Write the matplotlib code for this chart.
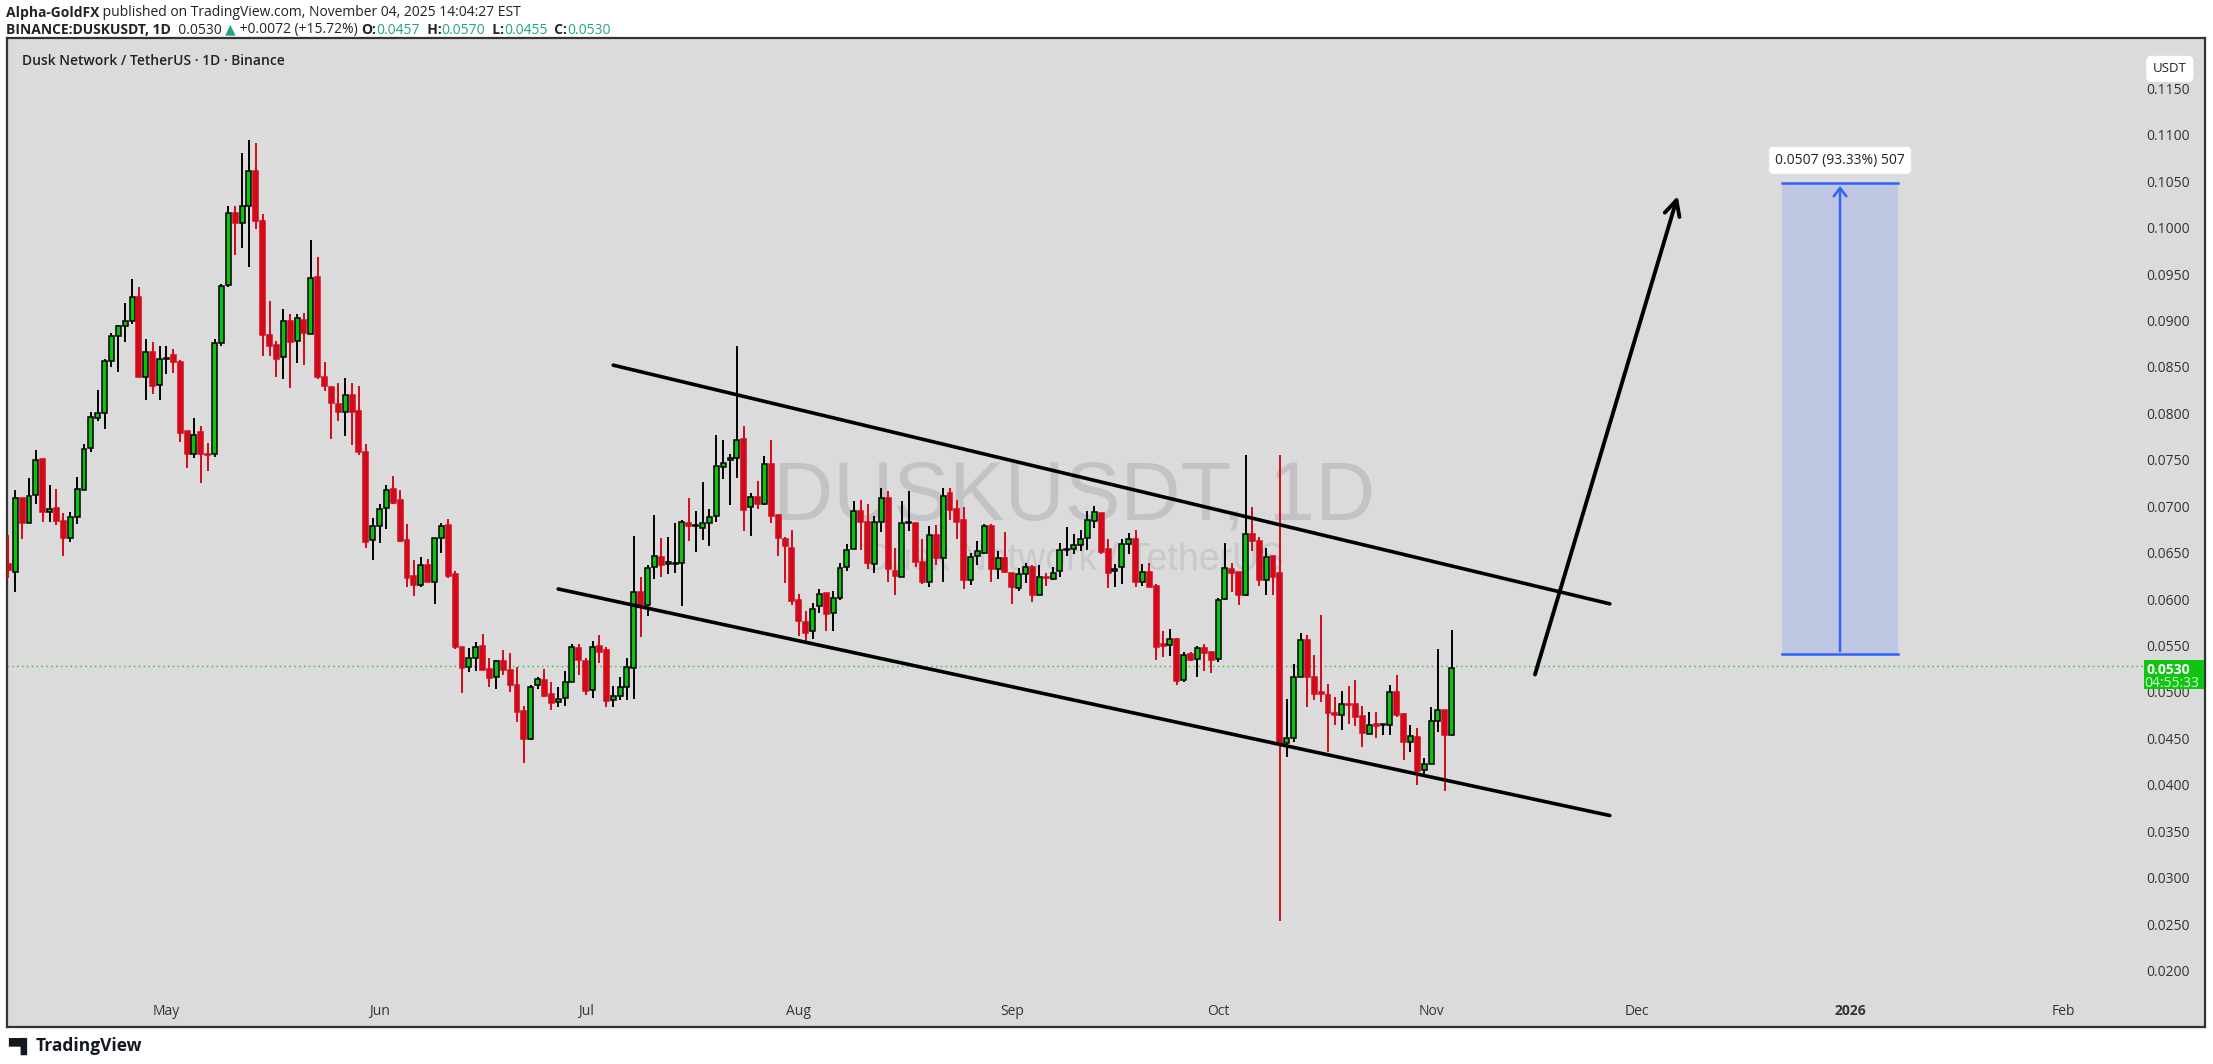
import numpy as np
import pandas as pd
import matplotlib
matplotlib.use('Agg')
import matplotlib.pyplot as plt
import matplotlib.transforms as mtrans
from matplotlib.patches import Rectangle

# ---------------- data ----------------
end_date = "2025-11-04"
opens = [0.0640,0.0631,0.0711,0.0684,0.0714,0.0753,0.0696,0.0700,0.0686,0.0668,0.0690,0.0720,0.0765,0.0797,0.0803,0.0859,0.0885,0.0896,0.0902,0.0927,
0.0841,0.0868,0.0833,0.0861,0.0865,0.0857,0.0783,0.0758,0.0782,0.0758,0.0758,0.0878,0.0940,0.1018,0.1007,0.1025,0.1063,0.1009,0.0886,0.0876,
0.0863,0.0902,0.0880,0.0903,0.0888,0.0949,0.0841,0.0830,0.0812,0.0804,0.0822,0.0805,
0.0760,0.0666,0.0681,0.0700,0.0721,0.0709,0.0666,0.0627,0.0617,0.0639,0.0621,0.0668,0.0682,0.0629,0.0551,0.0529,0.0539,0.0552,0.0527,0.0518,
0.0535,0.0526,0.0510,0.0482,0.0451,0.0510,0.0515,0.0500,0.0491,0.0496,0.0513,0.0549,0.0535,0.0504,0.0552,0.0547,0.0493,0.0498,0.0507,0.0528,
0.0610,0.0596,0.0637,0.0647,0.0640,0.0640,0.0641,0.0684,0.0681,0.0679,0.0684,0.0692,
0.0744,0.0752,0.0754,0.0774,0.0701,0.0712,0.0705,0.0748,0.0693,0.0667,0.0657,0.0601,0.0577,0.0568,0.0595,0.0609,0.0587,0.0603,0.0637,0.0656,
0.0697,0.0685,0.0640,0.0685,0.0711,0.0632,0.0626,0.0684,0.0684,0.0642,0.0620,0.0671,0.0646,0.0716,0.0699,0.0687,0.0623,0.0649,0.0652,0.0681,
0.0635,0.0646,0.0630,0.0614,0.0629,0.0637,0.0607,0.0626,0.0624,0.0632,0.0655,0.0656,0.0660,0.0668,0.0686,
0.0695,0.0656,0.0632,0.0637,0.0661,0.0667,0.0621,0.0631,0.0616,0.0553,0.0553,0.0559,0.0515,0.0543,0.0538,0.0549,0.0545,0.0538,0.0602,0.0635,
0.0631,0.0606,0.0672,0.0665,0.0623,0.0648,
0.0630,0.0447,0.0453,0.0518,0.0558,0.0518,0.0502,0.0499,0.0479,0.0477,0.0489,0.0489,0.0476,0.0457,0.0468,0.0466,0.0466,0.0502,0.0478,0.0448,
0.0454,0.0418,0.0425,0.0471,0.0483,0.0456]
highs = [0.0671,0.0720,0.0711,0.0733,0.0763,0.0753,0.0725,0.0721,0.0695,0.0696,0.0734,0.0769,0.0804,0.0827,0.0861,0.0889,0.0897,0.0921,0.0947,0.0938,
0.0882,0.0879,0.0875,0.0875,0.0871,0.0860,0.0783,0.0797,0.0789,0.0770,0.0882,0.0941,0.1025,0.1025,0.1083,0.1096,0.1093,0.1017,0.0923,0.0880,
0.0914,0.0909,0.0909,0.0910,0.0989,0.0971,0.0857,0.0830,0.0835,0.0840,0.0835,0.0832,
0.0769,0.0689,0.0704,0.0725,0.0735,0.0720,0.0683,0.0644,0.0647,0.0645,0.0668,0.0684,0.0688,0.0632,0.0551,0.0549,0.0556,0.0564,0.0539,0.0536,
0.0547,0.0544,0.0529,0.0487,0.0510,0.0518,0.0527,0.0513,0.0507,0.0525,0.0554,0.0554,0.0539,0.0557,0.0563,0.0550,0.0509,0.0518,0.0539,0.0670,
0.0626,0.0639,0.0693,0.0668,0.0669,0.0684,0.0687,0.0711,0.0697,0.0728,0.0699,0.0779,
0.0773,0.0758,0.0875,0.0788,0.0716,0.0729,0.0756,0.0773,0.0693,0.0669,0.0676,0.0608,0.0589,0.0598,0.0613,0.0609,0.0611,0.0641,0.0661,0.0708,
0.0709,0.0704,0.0692,0.0722,0.0718,0.0657,0.0708,0.0718,0.0684,0.0667,0.0681,0.0682,0.0722,0.0722,0.0709,0.0701,0.0652,0.0665,0.0683,0.0683,
0.0654,0.0674,0.0630,0.0636,0.0641,0.0639,0.0639,0.0630,0.0637,0.0663,0.0680,0.0672,0.0677,0.0697,0.0702,
0.0695,0.0667,0.0640,0.0667,0.0673,0.0677,0.0640,0.0641,0.0618,0.0568,0.0570,0.0560,0.0545,0.0545,0.0552,0.0554,0.0545,0.0603,0.0662,0.0641,
0.0631,0.0757,0.0701,0.0669,0.0657,0.0648,
0.0757,0.0495,0.0532,0.0566,0.0563,0.0542,0.0585,0.0511,0.0497,0.0503,0.0508,0.0515,0.0487,0.0480,0.0480,0.0468,0.0510,0.0520,0.0479,0.0466,
0.0463,0.0431,0.0486,0.0548,0.0483,0.0569]
lows = [0.0625,0.0610,0.0667,0.0684,0.0705,0.0685,0.0685,0.0682,0.0648,0.0664,0.0683,0.0720,0.0760,0.0794,0.0785,0.0852,0.0847,0.0879,0.0898,0.0841,
0.0816,0.0823,0.0816,0.0844,0.0846,0.0771,0.0743,0.0754,0.0727,0.0740,0.0755,0.0875,0.0938,0.0973,0.0980,0.0960,0.1001,0.0864,0.0864,0.0841,
0.0839,0.0829,0.0856,0.0854,0.0888,0.0839,0.0826,0.0775,0.0794,0.0778,0.0768,0.0757,
0.0657,0.0644,0.0663,0.0678,0.0705,0.0664,0.0615,0.0605,0.0615,0.0620,0.0597,0.0652,0.0625,0.0548,0.0501,0.0524,0.0525,0.0526,0.0507,0.0505,
0.0520,0.0502,0.0470,0.0426,0.0450,0.0505,0.0497,0.0483,0.0486,0.0487,0.0513,0.0520,0.0499,0.0496,0.0533,0.0486,0.0486,0.0493,0.0493,0.0495,
0.0561,0.0584,0.0624,0.0626,0.0629,0.0630,0.0595,0.0665,0.0653,0.0666,0.0659,0.0685,
0.0731,0.0703,0.0732,0.0675,0.0670,0.0699,0.0703,0.0684,0.0648,0.0619,0.0596,0.0562,0.0554,0.0559,0.0587,0.0568,0.0568,0.0601,0.0632,0.0656,
0.0655,0.0635,0.0630,0.0674,0.0621,0.0606,0.0626,0.0675,0.0637,0.0618,0.0615,0.0639,0.0620,0.0687,0.0667,0.0613,0.0617,0.0639,0.0651,0.0621,
0.0624,0.0630,0.0597,0.0611,0.0619,0.0599,0.0607,0.0616,0.0623,0.0626,0.0648,0.0651,0.0654,0.0655,0.0679,
0.0651,0.0614,0.0615,0.0618,0.0651,0.0615,0.0616,0.0615,0.0536,0.0540,0.0541,0.0510,0.0513,0.0535,0.0518,0.0525,0.0523,0.0534,0.0601,0.0610,
0.0596,0.0605,0.0654,0.0616,0.0606,0.0606,
0.0255,0.0432,0.0448,0.0518,0.0486,0.0493,0.0491,0.0437,0.0466,0.0461,0.0468,0.0465,0.0443,0.0457,0.0452,0.0456,0.0456,0.0475,0.0429,0.0437,
0.0402,0.0413,0.0424,0.0459,0.0395,0.0455]
closes = [0.0633,0.0711,0.0684,0.0713,0.0752,0.0696,0.0699,0.0686,0.0668,0.0691,0.0721,0.0764,0.0798,0.0802,0.0858,0.0885,0.0896,0.0902,0.0927,0.0841,
0.0868,0.0832,0.0861,0.0862,0.0857,0.0781,0.0758,0.0779,0.0758,0.0757,0.0878,0.0939,0.1018,0.1007,0.1025,0.1063,0.1009,0.0886,0.0875,0.0861,
0.0902,0.0879,0.0905,0.0889,0.0948,0.0841,0.0832,0.0813,0.0804,0.0822,0.0804,0.0760,
0.0664,0.0681,0.0699,0.0720,0.0706,0.0665,0.0625,0.0617,0.0639,0.0621,0.0668,0.0681,0.0627,0.0550,0.0528,0.0539,0.0551,0.0526,0.0517,0.0535,
0.0526,0.0510,0.0481,0.0451,0.0507,0.0516,0.0498,0.0490,0.0495,0.0513,0.0550,0.0537,0.0503,0.0551,0.0545,0.0492,0.0498,0.0507,0.0529,0.0610,
0.0596,0.0636,0.0648,0.0639,0.0642,0.0641,0.0685,0.0681,0.0681,0.0684,0.0691,0.0745,
0.0749,0.0754,0.0773,0.0698,0.0712,0.0704,0.0748,0.0692,0.0668,0.0659,0.0600,0.0578,0.0566,0.0591,0.0608,0.0586,0.0603,0.0636,0.0655,0.0697,
0.0685,0.0641,0.0685,0.0711,0.0635,0.0627,0.0684,0.0684,0.0642,0.0620,0.0671,0.0646,0.0713,0.0698,0.0685,0.0623,0.0647,0.0654,0.0681,0.0635,
0.0646,0.0631,0.0615,0.0629,0.0637,0.0607,0.0626,0.0625,0.0630,0.0655,0.0655,0.0660,0.0667,0.0687,0.0696,
0.0653,0.0630,0.0635,0.0661,0.0667,0.0621,0.0631,0.0615,0.0551,0.0552,0.0559,0.0514,0.0542,0.0537,0.0549,0.0544,0.0537,0.0601,0.0636,0.0630,
0.0606,0.0672,0.0665,0.0623,0.0647,0.0626,
0.0447,0.0453,0.0518,0.0558,0.0518,0.0500,0.0500,0.0479,0.0477,0.0489,0.0488,0.0475,0.0458,0.0467,0.0465,0.0466,0.0502,0.0477,0.0448,0.0455,
0.0417,0.0425,0.0471,0.0483,0.0456,0.0528]

month_labels = ["May", "Jun", "Jul", "Aug", "Sep", "Oct", "Nov", "Dec", "2026", "Feb"]
month_dates = ["2025-05-01", "2025-06-01", "2025-07-01", "2025-08-01", "2025-09-01",
               "2025-10-01", "2025-11-01", "2025-12-01", "2026-01-01", "2026-02-01"]
price_ticks = [round(0.02 + 0.005 * k, 4) for k in range(20)]
last_price = 0.0530

upper_line = [("2025-07-05", 0.0854), ("2025-11-27", 0.0597)]
lower_line = [("2025-06-27", 0.0613), ("2025-11-27", 0.0369)]
arrow_pts = [("2025-11-16", 0.0518), ("2025-12-07", 0.1039)]
target_box = {"start": "2025-12-22", "end": "2026-01-08", "low": 0.0543, "high": 0.1050}
target_label = "0.0507 (93.33%) 507"

# ---------------- helpers ----------------
REF = pd.Timestamp("2025-05-01")
def dx(d):
    return (pd.Timestamp(d) - REF).days

W, H = 2213, 1064
fig = plt.figure(figsize=(W / 100, H / 100), dpi=100, facecolor="white")
ax = fig.add_axes([7 / W, 1 - 1027 / H, (2205 - 7) / W, (1027 - 38) / H])
ax.set_facecolor("#dbdbdb")
ax.set_xlim(-23.2, 296.6)
ax.set_ylim(0.01413, 0.12063)
ax.set_xticks([]); ax.set_yticks([])
for s in ax.spines.values():
    s.set_color("#333333"); s.set_linewidth(1.6)

GREEN = "#0cc20c"
RED = "#d30a1a"
FAM = ["Open Sans", "DejaVu Sans"]

# watermark
wm_x = dx("2025-09-10")
ax.text(wm_x, 0.0712, "DUSKUSDT, 1D", fontsize=60, color="#c3c3c5", ha="center", va="center",
        family="Liberation Sans", zorder=0)
ax.text(wm_x, 0.0644, "Dusk Network / TetherUS", fontsize=27, color="#c9c9cb", ha="center", va="center",
        family="Liberation Sans", zorder=0)

dates = pd.date_range(end=end_date, periods=len(closes), freq="D")
xs = np.array([(d - REF).days for d in dates], dtype=float)
o = np.array(opens); h = np.array(highs); l = np.array(lows); c = np.array(closes)
up = c >= o
for xi, oi, hi, li, ci, u in zip(xs, o, h, l, c, up):
    col = GREEN if u else RED
    wcol = "black" if u else RED
    ax.vlines(xi, li, hi, color=wcol, lw=1.4, zorder=3)
    bot = min(oi, ci); ht = max(abs(ci - oi), 0.00012)
    ax.add_patch(Rectangle((xi - 0.36, bot), 0.72, ht, facecolor=col,
                           edgecolor="black" if u else col, lw=1.1, zorder=4))

# last price dotted line
ax.axhline(last_price, color="#22c322", lw=1.0, ls=(0, (1, 2.5)), zorder=2)

# channel lines
for ln in (upper_line, lower_line):
    ax.plot([dx(ln[0][0]), dx(ln[1][0])], [ln[0][1], ln[1][1]], color="black", lw=2.6,
            solid_capstyle="round", zorder=5)

# arrow
ax.annotate("", xy=(dx(arrow_pts[1][0]), arrow_pts[1][1]), xytext=(dx(arrow_pts[0][0]), arrow_pts[0][1]),
            arrowprops=dict(arrowstyle="->,head_length=1.1,head_width=0.55", lw=2.8, color="black"), zorder=5)

# target box
bx0, bx1 = dx(target_box["start"]), dx(target_box["end"])
ax.add_patch(Rectangle((bx0, target_box["low"]), bx1 - bx0, target_box["high"] - target_box["low"],
                       facecolor="#bfc7e2", edgecolor="none", zorder=2))
BLUE = "#2f62ff"
ax.plot([bx0, bx1], [target_box["high"]] * 2, color=BLUE, lw=1.8, zorder=3)
ax.plot([bx0, bx1], [target_box["low"]] * 2, color=BLUE, lw=1.8, zorder=3)
bxm = (bx0 + bx1) / 2
ax.annotate("", xy=(bxm, target_box["high"]), xytext=(bxm, target_box["low"]),
            arrowprops=dict(arrowstyle="->,head_length=0.6,head_width=0.45", lw=1.8, color=BLUE), zorder=3)
ax.text(bxm, 0.10745, target_label, ha="center", va="center", fontsize=10, color="#222222",
        family=FAM, zorder=6,
        bbox=dict(boxstyle="round,pad=0.45,rounding_size=0.3", fc="white", ec="#e0e0e0", lw=0.6))

# price scale labels
tr = mtrans.blended_transform_factory(ax.transAxes, ax.transData)
for p in price_ticks:
    ax.text(0.9830, p, f"{p:.4f}", transform=tr, ha="center", va="center", fontsize=10,
            color="#333333", family=FAM, zorder=6)
ax.text(0.9840, 0.1173, "USDT", transform=tr, ha="center", va="center", fontsize=9.5,
        color="#222222", family=FAM, zorder=7,
        bbox=dict(boxstyle="round,pad=0.5,rounding_size=0.4", fc="white", ec="none"))
ax.add_patch(Rectangle((0.9722, 0.05055), 0.0274, 0.00305, transform=tr, facecolor="#10c510",
                       edgecolor="none", zorder=7))
ax.text(0.9835, 0.05255, "0.0530", transform=tr, ha="center", va="center", fontsize=10,
        color="white", weight="bold", family=FAM, zorder=8)
ax.text(0.9850, 0.05115, "04:55:33", transform=tr, ha="center", va="center", fontsize=10,
        color="#d8ffd8", family=FAM, zorder=8)

# month labels
trx = mtrans.blended_transform_factory(ax.transData, ax.transAxes)
for lab, d in zip(month_labels, month_dates):
    ax.text(dx(d), 0.016, lab, transform=trx, ha="center", va="center", fontsize=10,
            color="#333333", family=FAM, weight="bold" if lab == "2026" else "normal")

# chart title
ax.text(15 / 2198, 1 - (61 - 38) / 989, "Dusk Network / TetherUS · 1D · Binance",
        transform=ax.transAxes, ha="left", va="center", fontsize=10, color="#222222",
        family=FAM, weight="semibold")

# header
fig.canvas.draw()
rend = fig.canvas.get_renderer()
def seq(x_px, y_px, parts, size=10):
    x = x_px
    for txt, col, wt in parts:
        t = fig.text(x / W, 1 - y_px / H, txt, fontsize=size, color=col, weight=wt,
                     family=FAM, ha="left", va="center")
        bb = t.get_window_extent(renderer=rend)
        x += bb.width
    return x

seq(6, 13, [("Alpha-GoldFX", "#222222", "bold"),
            (" published on TradingView.com, November 04, 2025 14:04:27 EST", "#222222", "normal")])
TEAL = "#22a38a"
seq(6, 30, [("BINANCE:DUSKUSDT, 1D", "#222222", "bold"), ("  0.0530 ", "#222222", "normal"),
            ("▲", TEAL, "normal"), (" +0.0072 (+15.72%) ", "#222222", "normal"),
            ("O:", "#222222", "bold"), ("0.0457", TEAL, "normal"),
            ("  H:", "#222222", "bold"), ("0.0570", TEAL, "normal"),
            ("  L:", "#222222", "bold"), ("0.0455", TEAL, "normal"),
            ("  C:", "#222222", "bold"), ("0.0530", TEAL, "normal")])

# TradingView footer
fig.text(8 / W, 1 - 1046 / H, "▀▌", fontsize=12, color="#131722", weight="bold",
         family="DejaVu Sans", ha="left", va="center")
fig.text(36 / W, 1 - 1046 / H, "TradingView", fontsize=12.5, color="#131722", weight="bold",
         family=FAM, ha="left", va="center")

fig.savefig("out.png", dpi=100, facecolor="white")
